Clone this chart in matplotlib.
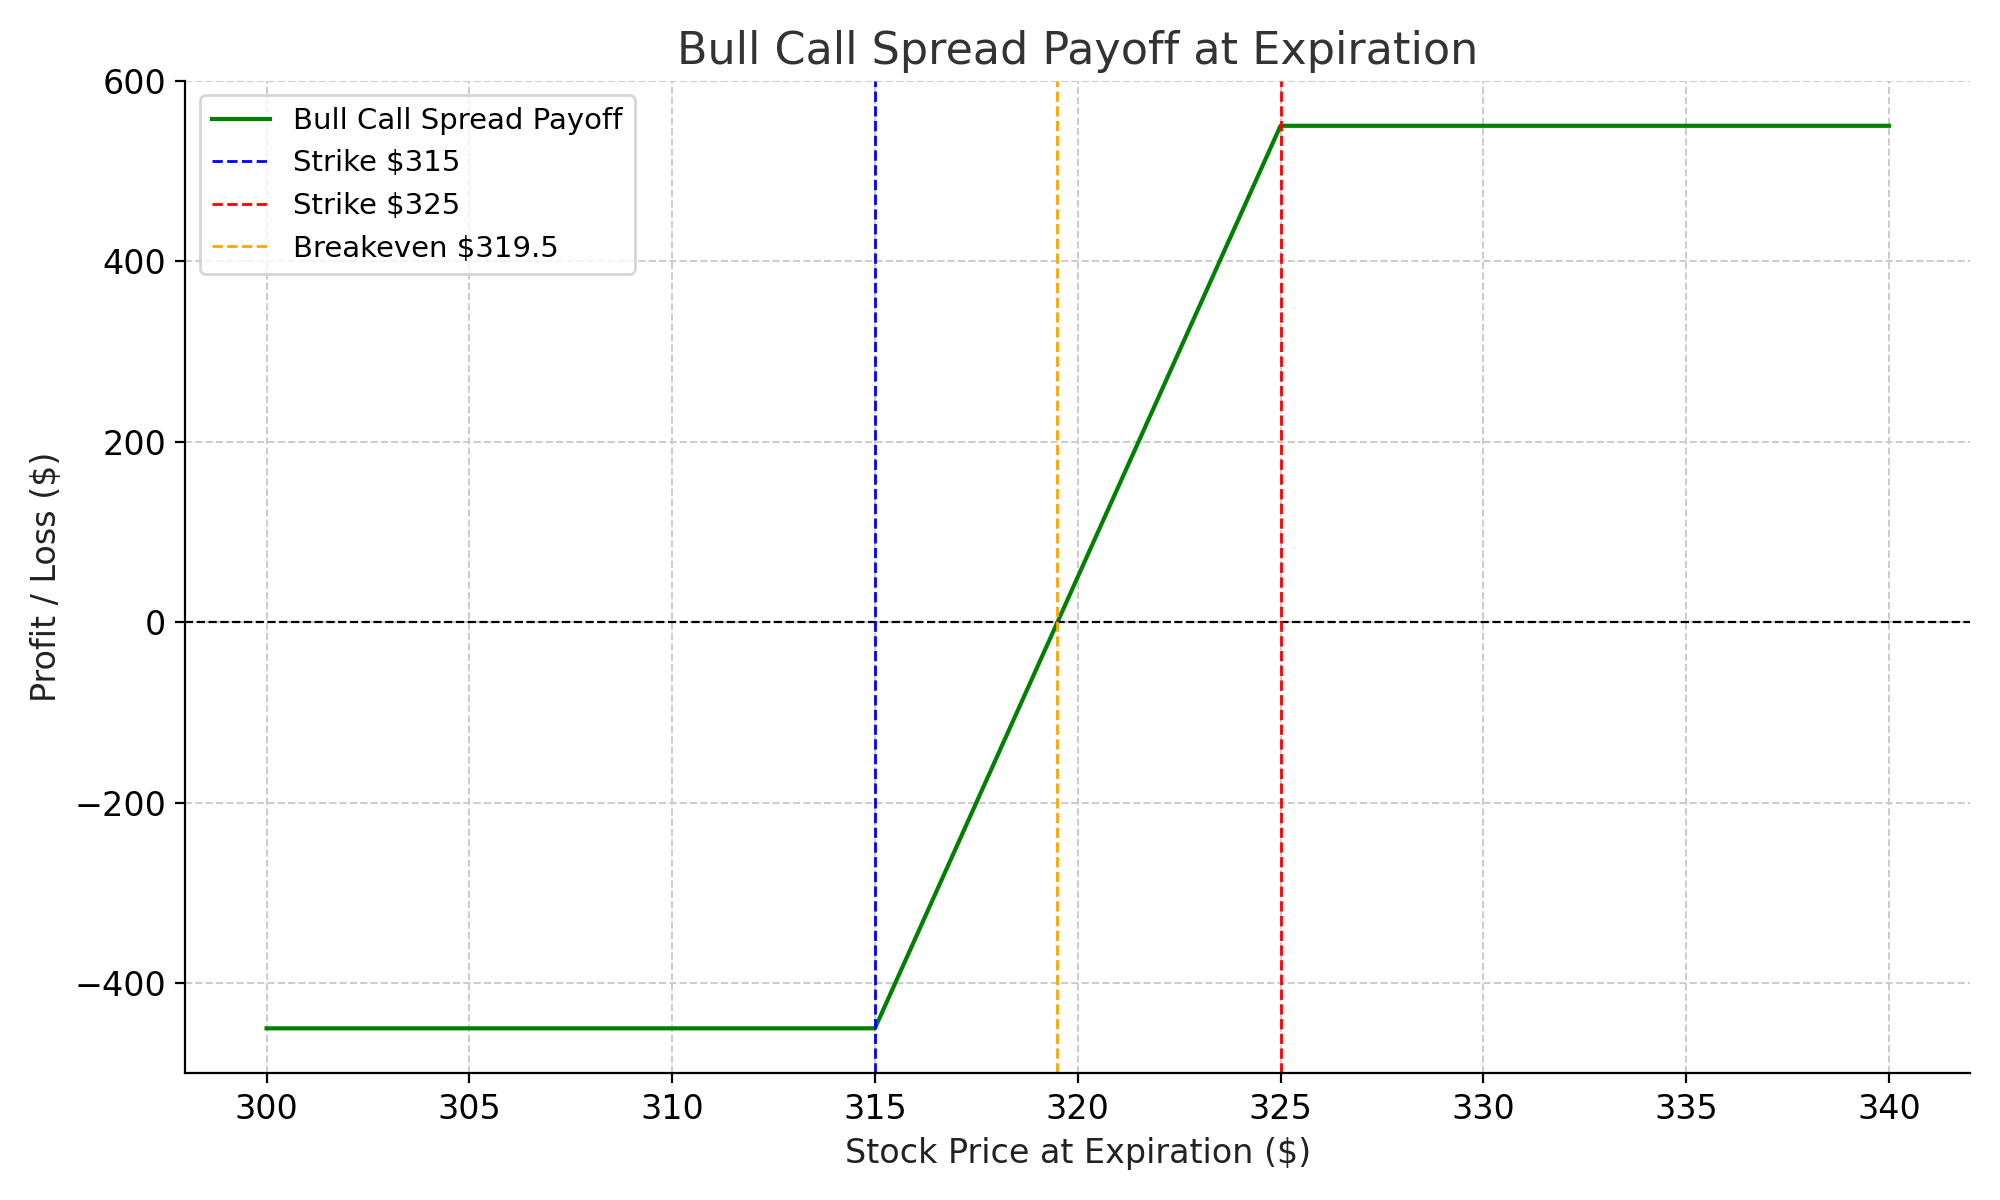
import matplotlib.pyplot as plt

# Payoff corner points
stock_prices = [300, 315, 325, 340]
payoff = [-450, -450, 550, 550]
strike_low = 315
strike_high = 325
breakeven = 319.5

fig, ax = plt.subplots(figsize=(10, 6), dpi=200)

ax.plot(stock_prices, payoff, color="green", linewidth=1.5, label="Bull Call Spread Payoff")
ax.axhline(0, color="black", linestyle="--", linewidth=0.8)
ax.axvline(strike_low, color="blue", linestyle="--", linewidth=1, label=f"Strike ${strike_low}")
ax.axvline(strike_high, color="red", linestyle="--", linewidth=1, label=f"Strike ${strike_high}")
ax.axvline(breakeven, color="orange", linestyle="--", linewidth=1, label=f"Breakeven ${breakeven}")

ax.set_xlim(298, 342)
ax.set_ylim(-500, 600)
ax.set_title("Bull Call Spread Payoff at Expiration", fontsize=16, color="#333333")
ax.set_xlabel("Stock Price at Expiration ($)", fontsize=12, color="#222222")
ax.set_ylabel("Profit / Loss ($)", fontsize=12, color="#222222")
ax.tick_params(labelsize=12)
ax.grid(True, linestyle="--", color="#cccccc", linewidth=0.7)
ax.spines["top"].set_visible(False)
ax.spines["right"].set_visible(False)
ax.legend(loc="upper left", fontsize=10.5)

fig.tight_layout()
fig.savefig("out.png")
